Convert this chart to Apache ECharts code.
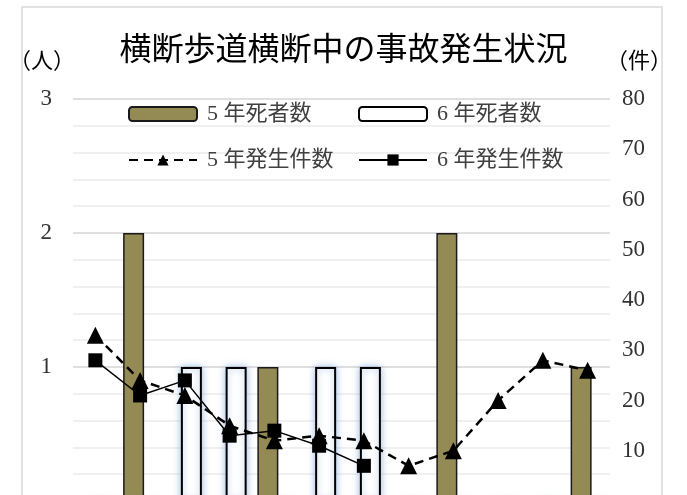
<!DOCTYPE html>
<html>
<head>
<meta charset="utf-8">
<script src="https://cdn.jsdelivr.net/npm/echarts@6/dist/echarts.min.js"></script>
<style>
  html, body { margin: 0; padding: 0; background: #fff; }
  #chart { width: 687px; height: 495px; }
</style>
</head>
<body>
<div id="chart"></div>
<script>
// 月別（1月〜12月）
var months = ['1月', '2月', '3月', '4月', '5月', '6月', '7月', '8月', '9月', '10月', '11月', '12月'];
// 死者数（人）
var deaths5 = [0, 2, 0, 0, 1, 0, 0, 0, 2, 0, 0, 1];
var deaths6 = [0, 0, 1, 1, 0, 1, 1, 0, 0, 0, 0, 0];
// 発生件数（件）
var cases5 = [33, 24, 21, 15, 12, 13, 12, 7, 10, 20, 28, 26];
var cases6 = [28, 21, 24, 13, 14, 11, 7, null, null, null, null, null];

var seriesNames = ['5 年死者数', '6 年死者数', '5 年発生件数', '6 年発生件数'];

var serif = "'Liberation Serif', 'Noto Sans CJK JP', serif";
var gothic = "'Noto Sans CJK JP', sans-serif";

var myChart = echarts.init(document.getElementById('chart'));

function legendAt(name, left, top) {
    return {
        data: [name],
        left: left,
        top: top,
        itemWidth: 68,
        itemHeight: 14,
        textStyle: {
            fontFamily: serif,
            fontSize: 22,
            color: '#404040',
            padding: [0, 0, 0, 5]
        }
    };
}

// 0 は表示しない（図の下端で切れている）
function noZero(v) {
    if (v === 0) return '';
    return Math.abs(v - Math.round(v)) < 1e-6 ? String(Math.round(v)) : '';
}

var option = {
    backgroundColor: '#fff',
    animation: false,
    title: {
        text: '横断歩道横断中の事故発生状況',
        left: 'center',
        top: 27,
        textStyle: {
            fontFamily: gothic,
            fontSize: 32,
            fontWeight: 'normal',
            color: '#000'
        }
    },
    legend: [
        legendAt(seriesNames[0], 123, 98),
        legendAt(seriesNames[1], 353, 98),
        legendAt(seriesNames[2], 123, 144),
        legendAt(seriesNames[3], 353, 144)
    ],
    graphic: [{
        type: 'rect',
        shape: { x: 22, y: 7, width: 640, height: 520 },
        style: { fill: 'none', stroke: '#d9d9d9', lineWidth: 1.5 },
        silent: true,
        z: -1
    }],
    grid: {
        left: 73,
        top: 99,
        width: 537,
        height: 402,
        outerBoundsMode: 'none',
        containLabel: false
    },
    xAxis: {
        type: 'category',
        data: months,
        axisLine: { show: false },
        axisTick: { show: false },
        axisLabel: { show: false }
    },
    yAxis: [{
        type: 'value',
        min: 0,
        max: 3,
        interval: 0.2,
        name: '（人）',
        nameLocation: 'end',
        nameGap: 37,
        nameTextStyle: { fontFamily: serif, fontSize: 22, color: '#000', align: 'right', verticalAlign: 'middle', padding: [0, -2, 0, 0] },
        axisLine: { show: false },
        axisTick: { show: false },
        axisLabel: {
            margin: 21,
            fontFamily: serif,
            fontSize: 23,
            color: '#333',
            formatter: noZero
        },
        splitLine: {
            lineStyle: { color: ['#d4d4d4', '#ebebeb', '#ebebeb', '#ebebeb', '#ebebeb'], width: 1.5 }
        }
    }, {
        type: 'value',
        min: 0,
        max: 80,
        interval: 10,
        name: '（件）',
        nameLocation: 'end',
        nameGap: 37,
        nameTextStyle: { fontFamily: serif, fontSize: 22, color: '#000', align: 'left', verticalAlign: 'middle', padding: [0, 0, 0, -4] },
        axisLine: { show: false },
        axisTick: { show: false },
        axisLabel: {
            margin: 12,
            fontFamily: serif,
            fontSize: 23,
            color: '#333',
            formatter: noZero
        },
        splitLine: { show: false }
    }],
    series: [{
        name: seriesNames[0],
        type: 'bar',
        yAxisIndex: 0,
        data: deaths5,
        barWidth: 21,
        barGap: '-38%',
        itemStyle: { color: '#948A54', borderColor: '#1a1a1a', borderWidth: 1.5 }
    }, {
        name: seriesNames[1],
        type: 'bar',
        yAxisIndex: 0,
        data: deaths6,
        barWidth: 21,
        barGap: '-38%',
        itemStyle: {
            color: '#fff',
            borderColor: '#000',
            borderWidth: 2,
            shadowColor: 'rgba(120,160,215,0.7)',
            shadowBlur: 7
        }
    }, {
        name: seriesNames[2],
        type: 'line',
        yAxisIndex: 1,
        data: cases5,
        symbol: 'triangle',
        symbolSize: 17,
        itemStyle: { color: '#000' },
        lineStyle: { color: '#000', width: 2.5, type: [9, 6] },
        z: 3
    }, {
        name: seriesNames[3],
        type: 'line',
        yAxisIndex: 1,
        data: cases6,
        symbol: 'rect',
        symbolSize: 14,
        itemStyle: { color: '#000' },
        lineStyle: { color: '#000', width: 1.5 },
        z: 4
    }]
};

myChart.setOption(option);
</script>
</body>
</html>
